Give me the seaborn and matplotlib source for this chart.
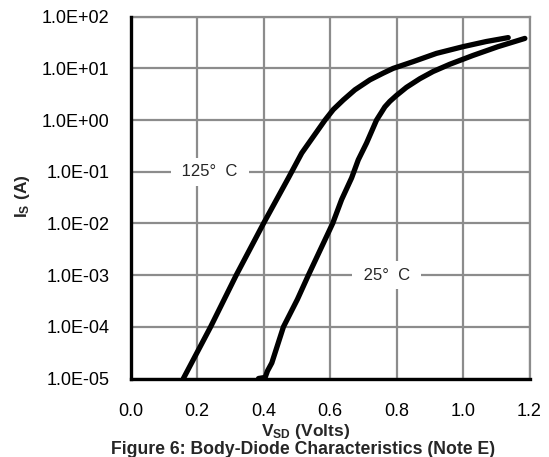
import numpy as np
import pandas as pd
import matplotlib
matplotlib.use("Agg")
import matplotlib.pyplot as plt
import seaborn as sns
from matplotlib.ticker import FixedLocator, FuncFormatter, NullLocator

# ---- data ----
v_125 = [0.159, 0.241, 0.318, 0.400, 0.475, 0.515, 0.550, 0.585, 0.610, 0.640,
         0.675, 0.720, 0.760, 0.790, 0.850, 0.920, 1.000, 1.070, 1.136]
i_125 = [1.0e-5, 1.0e-4, 1.0e-3, 1.0e-2, 7.6e-2, 0.23, 0.48, 1.0, 1.6, 2.45,
         3.85, 6.0, 8.1, 10.0, 13.5, 19.5, 26.3, 33.1, 39.4]

v_25 = [0.385, 0.405, 0.412, 0.425, 0.460, 0.502, 0.535, 0.608, 0.635, 0.665,
        0.685, 0.710, 0.740, 0.765, 0.780, 0.800, 0.830, 0.870, 0.910, 0.960,
        1.030, 1.105, 1.186]
i_25 = [1.0e-5, 1.05e-5, 1.4e-5, 2.0e-5, 1.0e-4, 3.4e-4, 1.0e-3, 1.0e-2, 2.9e-2,
        7.6e-2, 0.17, 0.36, 1.0, 1.8, 2.3, 3.0, 4.3, 6.3, 8.7, 12.0,
        17.8, 26.3, 38.0]

x_ticks = [0.0, 0.2, 0.4, 0.6, 0.8, 1.0, 1.2]
y_ticks = [1e-5, 1e-4, 1e-3, 1e-2, 1e-1, 1e0, 1e1, 1e2]
labels = [" 125°  C ", " 25°  C "]
label_pos = [(0.239, 1e-1), (0.770, 1e-3)]

df = pd.concat([
    pd.DataFrame({"V": v_125, "I": i_125, "T": "125"}),
    pd.DataFrame({"V": v_25, "I": i_25, "T": "25"}),
], ignore_index=True)

sns.set_style("white")
plt.rcParams["font.family"] = ["Liberation Sans", "DejaVu Sans"]
plt.rcParams["mathtext.fontset"] = "custom"
plt.rcParams["mathtext.rm"] = "Liberation Sans"
plt.rcParams["mathtext.bf"] = "Liberation Sans:bold"

fig = plt.figure(figsize=(5.49, 4.57), dpi=100)
ax = fig.add_axes([130.5 / 549, 1 - 378.5 / 457, (529.5 - 130.5) / 549, (378.5 - 16.7) / 457])

sns.lineplot(data=df, x="V", y="I", hue="T", units="T", estimator=None, sort=False,
             palette=["black", "black"], linewidth=3.8, legend=False, ax=ax, zorder=5)
for ln in ax.get_lines():
    ln.set_solid_capstyle("round")
    ln.set_solid_joinstyle("round")

ax.set_yscale("log")
ax.set_xlim(0, 1.2)
ax.set_ylim(1e-5, 1e2)
ax.xaxis.set_major_locator(FixedLocator(x_ticks))
ax.yaxis.set_major_locator(FixedLocator(y_ticks))
ax.yaxis.set_minor_locator(NullLocator())
ax.xaxis.set_major_formatter(FuncFormatter(lambda v, p: f"{v:.1f}"))
ax.yaxis.set_major_formatter(FuncFormatter(lambda v, p: f"{v:.1E}"))
ax.tick_params(axis="both", length=0, labelsize=13, colors="black")
ax.tick_params(axis="y", pad=15)
ax.tick_params(axis="x", pad=18)
ax.set_xlabel("")
ax.set_ylabel("")

ax.grid(True, which="major", color="#8c8c8c", linewidth=1.6)
ax.set_axisbelow(True)
for s in ["top", "right"]:
    ax.spines[s].set_color("#8c8c8c")
    ax.spines[s].set_linewidth(1.6)
for s in ["left", "bottom"]:
    ax.spines[s].set_color("black")
    ax.spines[s].set_linewidth(2.4)
    ax.spines[s].set_zorder(6)

for txt, (lx, ly) in zip(labels, label_pos):
    ax.text(lx, ly, txt, ha="center", va="center", fontsize=12, zorder=4,
            bbox=dict(boxstyle="square,pad=0.4", facecolor="white", edgecolor="none"))

fig.text(22 / 549, 1 - 196 / 457, r"$\mathbf{I_S}$ (A)", rotation=90, ha="center", va="center",
         fontsize=12.5, fontweight="bold")
fig.text(306 / 549, 1 - 436 / 457, r"$\mathbf{V_{SD}}$ (Volts)", ha="center", va="baseline",
         fontsize=12.5, fontweight="bold")
fig.text(303 / 549, 1 - 454 / 457, "Figure 6: Body-Diode Characteristics (Note E)",
         ha="center", va="baseline", fontsize=12.7, fontweight="bold")

fig.savefig("out.png", dpi=100, facecolor="white")
